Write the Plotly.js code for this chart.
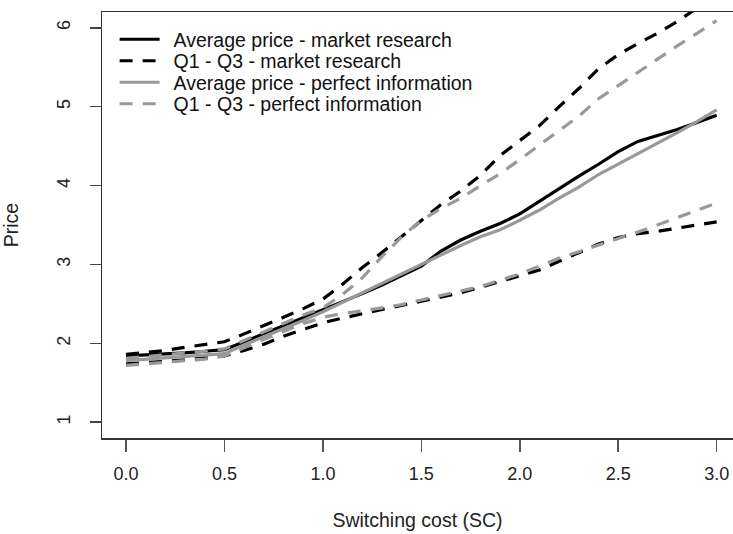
<!DOCTYPE html>
<html>
<head>
<meta charset="utf-8">
<script src="https://cdn.plot.ly/plotly-3.0.1.min.js"></script>
<style>
  html, body { margin: 0; padding: 0; background: #ffffff; overflow: hidden; }
  #chart { width: 733px; height: 534px; }
</style>
</head>
<body>
<div id="chart"></div>
<script>
// Switching cost (x)
var switchingCost = [0.0, 0.1, 0.2, 0.3, 0.4, 0.5, 0.6, 0.7, 0.8, 0.9, 1.0,
                     1.1, 1.2, 1.3, 1.4, 1.5, 1.6, 1.7, 1.8, 1.9, 2.0,
                     2.1, 2.2, 2.3, 2.4, 2.5, 2.6, 2.7, 2.8, 2.9, 3.0];

// Market research
var mrAverage = [1.84, 1.85, 1.86, 1.88, 1.90, 1.92, 2.02, 2.12, 2.22, 2.32, 2.42,
                 2.52, 2.63, 2.74, 2.86, 2.98, 3.17, 3.31, 3.42, 3.52, 3.64,
                 3.80, 3.97, 4.12, 4.27, 4.43, 4.56, 4.63, 4.71, 4.80, 4.89];
var mrQ3 = [1.86, 1.88, 1.91, 1.95, 1.98, 2.02, 2.12, 2.22, 2.33, 2.44, 2.56,
            2.75, 2.96, 3.15, 3.35, 3.56, 3.76, 3.93, 4.13, 4.38, 4.57,
            4.76, 5.00, 5.23, 5.48, 5.66, 5.80, 5.93, 6.08, 6.25, 6.40];
var mrQ1 = [1.74, 1.75, 1.77, 1.79, 1.81, 1.84, 1.91, 1.99, 2.09, 2.18, 2.26,
            2.32, 2.38, 2.43, 2.48, 2.53, 2.58, 2.64, 2.71, 2.78, 2.85,
            2.93, 3.04, 3.15, 3.26, 3.34, 3.39, 3.42, 3.46, 3.50, 3.54];

// Perfect information
var piAverage = [1.78, 1.80, 1.81, 1.83, 1.85, 1.87, 1.98, 2.08, 2.18, 2.29, 2.40,
                 2.52, 2.65, 2.76, 2.88, 3.00, 3.13, 3.24, 3.35, 3.44, 3.56,
                 3.69, 3.84, 3.98, 4.14, 4.27, 4.40, 4.54, 4.67, 4.81, 4.96];
var piQ3 = [1.81, 1.83, 1.85, 1.87, 1.90, 1.93, 2.04, 2.15, 2.26, 2.36, 2.45,
            2.62, 2.83, 3.10, 3.35, 3.56, 3.71, 3.84, 4.00, 4.15, 4.33,
            4.51, 4.69, 4.88, 5.10, 5.27, 5.44, 5.60, 5.77, 5.93, 6.09];
var piQ1 = [1.72, 1.74, 1.76, 1.78, 1.80, 1.84, 1.95, 2.05, 2.15, 2.25, 2.33,
            2.38, 2.41, 2.45, 2.49, 2.55, 2.61, 2.66, 2.72, 2.80, 2.88,
            2.98, 3.08, 3.16, 3.25, 3.33, 3.41, 3.50, 3.60, 3.69, 3.78];

var xTickVals = [0, 0.5, 1, 1.5, 2, 2.5, 3];
var xTickText = ["0.0", "0.5", "1.0", "1.5", "2.0", "2.5", "3.0"];
var yTickVals = [1, 2, 3, 4, 5, 6];
var yTickText = ["1", "2", "3", "4", "5", "6"];

var seriesNames = ["Average price - market research", "Q1 - Q3 - market research",
                   "Average price - perfect information", "Q1 - Q3 - perfect information"];

var BLACK = "#000000", GRAY = "#999999";
var LW = 3.2, DASH = "13px,10px";

function tr(y, name, color, dash, show) {
  return {
    x: switchingCost, y: y, type: "scatter", mode: "lines",
    name: name, showlegend: show,
    line: { color: color, width: LW, dash: dash },
    hoverinfo: "skip"
  };
}

var data = [
  tr(mrAverage, seriesNames[0], BLACK, "solid", true),
  tr(mrQ3, seriesNames[1], BLACK, DASH, true),
  tr(mrQ1, seriesNames[1], BLACK, DASH, false),
  tr(piAverage, seriesNames[2], GRAY, "solid", true),
  tr(piQ3, seriesNames[3], GRAY, DASH, true),
  tr(piQ1, seriesNames[3], GRAY, DASH, false)
];

var FONT = "Liberation Sans, Arial, Helvetica, sans-serif";

var layout = {
  width: 733, height: 534,
  margin: { l: 102, r: 0, t: 12, b: 96, pad: 0 },
  paper_bgcolor: "#ffffff", plot_bgcolor: "#ffffff",
  font: { family: FONT, size: 18, color: "#222222" },
  showlegend: true,
  legend: {
    x: 0.02, y: 0.981, xanchor: "left", yanchor: "top",
    bgcolor: "rgba(0,0,0,0)", borderwidth: 0,
    font: { family: FONT, size: 19.5, color: "#111111" },
    itemwidth: 40, traceorder: "normal"
  },
  xaxis: {
    range: [-0.122, 3.083], autorange: false,
    tickmode: "array", tickvals: xTickVals, ticktext: xTickText,
    showgrid: false, zeroline: false,
    showline: true, mirror: true, linecolor: "#333333", linewidth: 1.5,
    ticks: "outside", ticklen: 12, tickwidth: 1.5, tickcolor: "#555555",
    ticklabelstandoff: 7,
    tickfont: { family: FONT, size: 18, color: "#222222" },
    title: { text: "Switching cost (SC)", font: { family: FONT, size: 19.5, color: "#222222" }, standoff: 30 }
  },
  yaxis: {
    range: [0.8, 6.2], autorange: false,
    tickmode: "array", tickvals: yTickVals, ticktext: yTickText,
    tickangle: -90,
    showgrid: false, zeroline: false,
    showline: true, mirror: false, linecolor: "#333333", linewidth: 1.5,
    ticks: "outside", ticklen: 11, tickwidth: 1.5, tickcolor: "#444444",
    ticklabelstandoff: 12,
    tickfont: { family: FONT, size: 18, color: "#222222" },
    title: { text: "Price", font: { family: FONT, size: 19.5, color: "#222222" }, standoff: 33 }
  }
};

Plotly.newPlot("chart", data, layout, { displayModeBar: false, staticPlot: true }).then(function (gd) {
  // Tighten legend row spacing and the gap between the key and its text
  var ROW = 21.5, TEXT_SHIFT = 9;
  gd.querySelectorAll(".legend [clip-path]").forEach(function (e) { e.removeAttribute("clip-path"); });
  var items = gd.querySelectorAll(".legend .traces");
  var first = null;
  items.forEach(function (g, i) {
    var m = /translate\(\s*([-\d.]+)[ ,]+([-\d.]+)\s*\)/.exec(g.getAttribute("transform") || "");
    if (!m) return;
    var tx = parseFloat(m[1]), ty = parseFloat(m[2]);
    if (first === null) first = ty;
    g.setAttribute("transform", "translate(" + tx + "," + (first + i * ROW) + ")");
    var t = g.querySelector(".legendtext");
    if (t) {
      var x0 = parseFloat(t.getAttribute("x") || "0");
      t.setAttribute("x", x0 + TEXT_SHIFT);
      t.querySelectorAll("tspan").forEach(function (s) {
        if (s.hasAttribute("x")) s.setAttribute("x", parseFloat(s.getAttribute("x")) + TEXT_SHIFT);
      });
    }
  });
});
</script>
</body>
</html>
